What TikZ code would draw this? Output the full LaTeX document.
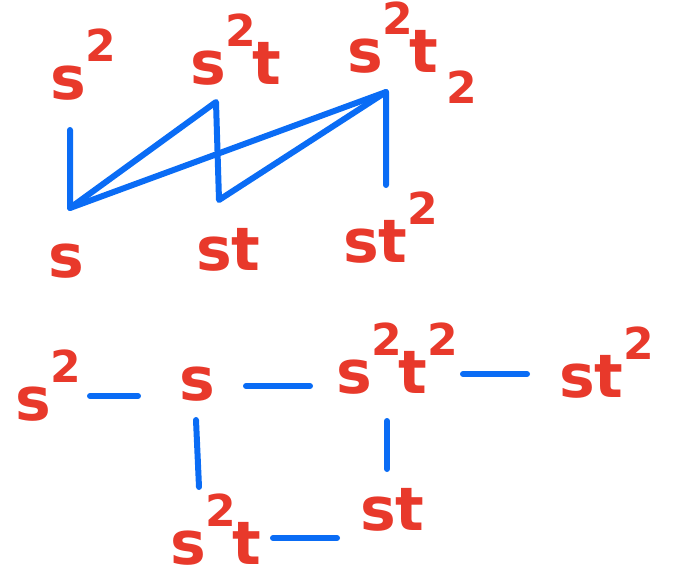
\documentclass[tikz,border=0pt]{standalone}
\usepackage{fontspec}
\setmainfont{DejaVu Sans}
\definecolor{inkred}{HTML}{E8392B}
\definecolor{inkblue}{HTML}{0A6CF5}
\newcommand{\Pw}[1]{\raisebox{38pt}{\fontsize{44}{44}\selectfont #1}}
\newcommand{\Sb}[1]{\hspace{8pt}\raisebox{-31pt}{\fontsize{44}{44}\selectfont #1}}
\begin{document}
\begin{tikzpicture}[x=1pt,y=-1pt,
  term/.style={text=inkred,anchor=base west,inner sep=0pt,font=\fontsize{60}{60}\selectfont\bfseries},
  link/.style={draw=inkblue,line width=6pt,line cap=round,line join=round}]
\useasboundingbox (0,0) rectangle (677,575);
% top part
\node[term] (a1) at (50,100) {s\Pw{2}};
\node[term] (a2) at (190,85) {s\Pw{2}\kern-4pt t};
\node[term] (a3) at (347,73) {s\Pw{2}\kern-4pt t\Sb{2}};
\node[term] (a4) at (48,277) {s};
\node[term] (a5) at (196,270) {st};
\node[term] (a6) at (343,262) {st\Pw{2}};
\coordinate (p1) at (70,130);
\coordinate (p2) at (70,208);
\coordinate (p3) at (216,102);
\coordinate (p4) at (219,200);
\coordinate (p5) at (386,92);
\coordinate (p6) at (386,185);
\draw[link] (p1) -- (p2) -- (p3) -- (p4) -- (p5) -- (p6);
\draw[link] (p2) -- (p5);
% bottom part
\node[term] (b1) at (15,420) {s\Pw{2}};
\node[term] (b2) at (179,400) {s};
\node[term] (b3) at (336,393) {s\Pw{2}\kern-4pt t\Pw{2}};
\node[term] (b4) at (559,397) {st\Pw{2}};
\node[term] (b5) at (170,564) {s\Pw{2}\kern-4pt t};
\node[term] (b6) at (360,530) {st};
\coordinate (q1) at (90,396);
\coordinate (q2) at (138,396);
\coordinate (q3) at (246,386);
\coordinate (q4) at (310,386);
\coordinate (q5) at (463,374);
\coordinate (q6) at (527,374);
\coordinate (q7) at (196,420);
\coordinate (q8) at (199,487);
\coordinate (q9) at (387,421);
\coordinate (q10) at (387,469);
\coordinate (q11) at (273,538);
\coordinate (q12) at (337,538);
\draw[link] (q1) -- (q2);
\draw[link] (q3) -- (q4);
\draw[link] (q5) -- (q6);
\draw[link] (q7) -- (q8);
\draw[link] (q9) -- (q10);
\draw[link] (q11) -- (q12);
\end{tikzpicture}
\end{document}
